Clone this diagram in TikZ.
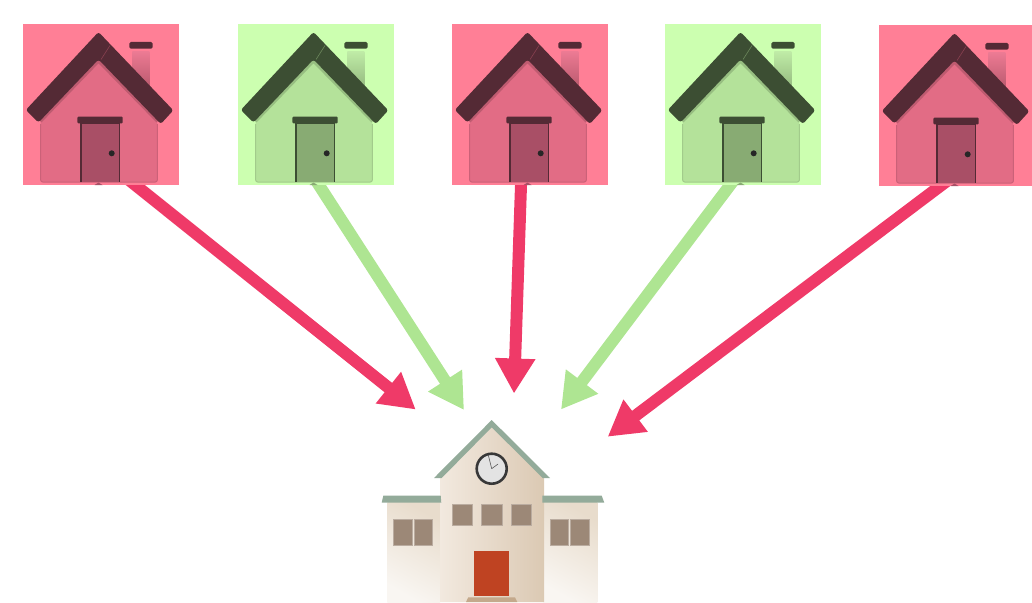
\documentclass[tikz,border=0pt]{standalone}
\usepackage{amsmath}
\usepackage{xcolor}
\usetikzlibrary{arrows.meta,backgrounds}
\definecolor{redtile}{HTML}{FF7F96}
\definecolor{redbody}{HTML}{E26C85}
\definecolor{reddoor}{HTML}{A94F66}
\definecolor{redroof}{HTML}{542A35}
\definecolor{redchim}{HTML}{EC7A93}
\definecolor{greentile}{HTML}{CCFFB0}
\definecolor{greenbody}{HTML}{B4E29A}
\definecolor{greendoor}{HTML}{88AB73}
\definecolor{greenroof}{HTML}{3C4E33}
\definecolor{greenchim}{HTML}{BFEBA6}
\definecolor{redarrow}{HTML}{EF3A68}
\definecolor{greenarrow}{HTML}{AEE592}
\definecolor{eave}{HTML}{93AB9A}
\definecolor{pane}{HTML}{9C8877}
\definecolor{wallA}{HTML}{F2E9DF}
\definecolor{wallB}{HTML}{DBC9B3}
\definecolor{wingA}{HTML}{F9F6F2}
\definecolor{wingB}{HTML}{E8DCCC}
\definecolor{reddoorS}{HTML}{BF4322}
\definecolor{stepS}{HTML}{C4A98C}
\begin{document}
\begin{tikzpicture}[x=1pt,y=-1pt]
    \tikzstyle{tile}=[shape=rectangle,inner sep=0pt,minimum width=156pt,minimum height=161pt];
    \tikzstyle{arr}=[line width=12pt,shorten <=-12pt,-{Triangle[length=35pt,width=38pt]}];
    \tikzstyle{win}=[fill=pane,draw=pane!70!white,line width=0.5pt];
    \tikzset{home/.pic={
        \node[tile,fill=#1tile] (tile) at (78,80.5) {};
        \shade[top color=#1chim,bottom color=#1body!82!black] (109.3,27.7) rectangle (126.3,64);
        \fill[#1roof,rounded corners=1.5pt] (106.3,18) rectangle (129.7,24.7);
        \fill[#1body,rounded corners=2pt] (17.7,90) -- (75.5,34) -- (134.3,90) -- (134.3,158) -- (17.7,158) -- cycle;
        \draw[#1body!90!black,line width=1pt,rounded corners=2pt] (17.7,100) -- (17.7,158) -- (134.3,158) -- (134.3,100);
        \draw[#1body!84!black,line width=2.5pt] (17.7,97.5) -- (75.5,37.5) -- (134.3,97.5);
        \fill[#1roof,rounded corners=2.5pt] (75.5,8) -- (150.3,86.3) -- (137.8,100) -- (75.5,35.5) -- (15.5,98.5) -- (2.8,86) -- cycle;
        \draw[#1body!60!black,line width=0.6pt] (87,21.5) -- (78,35.5);
        \fill[#1door,draw=#1roof,line width=1.5pt] (58,158) -- (58,99) -- (96.3,99) -- (96.3,158);
        \fill[#1roof,rounded corners=1pt] (54.3,92.7) rectangle (99.7,99.3);
        \fill[#1door] (71.5,161) -- (75.5,158.5) -- (79.5,161) -- cycle;
        \fill[black!85] (88.7,129.3) circle (3);
    }};
    \useasboundingbox (0,0) rectangle (1032,602);
    %1
    \begin{scope}[shift={(23,24)}]
    	\pic (a) {home=red};
    \end{scope}
    %2
    \begin{scope}[shift={(238,24)}]
    	\pic (b) {home=green};
    \end{scope}
    %3
    \begin{scope}[shift={(452,24)}]
    	\pic (c) {home=red};
    \end{scope}
    %4
    \begin{scope}[shift={(665,24)}]
    	\pic (d) {home=green};
    \end{scope}
    %5
    \begin{scope}[shift={(879,25)}]
    	\pic (e) {home=red};
    \end{scope}
    %school
    \shade[top color=wingB,bottom color=wingA,shading angle=-30] (387.3,502.7) rectangle (440,602);
    \shade[top color=wingB,bottom color=wingA,shading angle=-30] (543.3,502.7) rectangle (597.3,602);
    \shade[left color=wallA,right color=wallB] (440,602) -- (440,477) -- (491.7,427) -- (544,477) -- (544,602) -- cycle;
    \fill[eave] (491.7,420) -- (550,478) -- (542.7,478) -- (491.7,427.3) -- (441.7,478) -- (434,478) -- cycle;
    \fill[eave] (383.3,495.7) -- (440.7,495.7) -- (441.3,502.7) -- (381.7,502.7) -- cycle;
    \fill[eave] (542.3,495.7) -- (601.7,495.7) -- (604.3,502.7) -- (542.3,502.7) -- cycle;
    \draw[win] (393.3,519) rectangle (412,545.7);
    \draw[win] (414.3,519) rectangle (432.3,545.7);
    \draw[win] (550,519) rectangle (568.3,545.7);
    \draw[win] (570.3,519) rectangle (589,545.7);
    \draw[win] (452.3,504) rectangle (472.3,525);
    \draw[win] (481.7,504) rectangle (502,525);
    \draw[win] (511.3,504) rectangle (531.3,525);
    \fill[reddoorS] (473.7,551) rectangle (509,596.3);
    \fill[stepS] (468.3,597.3) -- (515,597.3) -- (517.3,602) -- (466,602) -- cycle;
    \node[circle,inner sep=0pt,minimum size=30pt,draw=black!78,line width=2.6pt,fill=black!11] (clock) at (491.7,468.7) {};
    \draw[black!65,line width=0.6pt] (clock.center) -- (488.3,455) (clock.center) -- (498,464);
    %arrows
    \coordinate (tip1) at (415.7,409.5);
    \coordinate (tip2) at (464,410);
    \coordinate (tip3) at (514,393.5);
    \coordinate (tip4) at (561,409.5);
    \coordinate (tip5) at (607.7,436.7);
    \begin{pgfonlayer}{background}
    \draw[arr,redarrow] ([xshift=34.5pt]atile.south) -- (tip1);
    \draw[arr,greenarrow] ([xshift=3pt]btile.south) -- (tip2);
    \draw[arr,redarrow] ([xshift=-9pt]ctile.south) -- (tip3);
    \draw[arr,greenarrow] ([xshift=-13pt]dtile.south) -- (tip4);
    \draw[arr,redarrow] ([xshift=-17pt]etile.south) -- (tip5);
    \end{pgfonlayer}
\end{tikzpicture}
\end{document}
